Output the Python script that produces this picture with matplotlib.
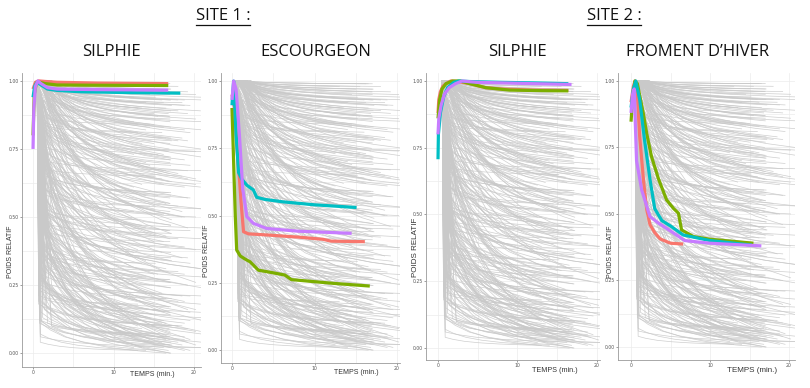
import numpy as np
import matplotlib
matplotlib.use("Agg")
import matplotlib.pyplot as plt
from matplotlib.lines import Line2D

W, H = 810, 388

# ---------------- data ----------------
panel_titles = ["SILPHIE", "ESCOURGEON", "SILPHIE", "FROMENT D\u2019HIVER"]
site_titles = ["SITE 1 :", "SITE 2 :"]
y_ticks = [0.00, 0.25, 0.50, 0.75, 1.00]
x_ticks = [0, 10, 20]

# background gray curves (shared by all panels)
gray_final = [0.00, 0.01, 0.01, 0.02, 0.02, 0.03, 0.03, 0.04, 0.04, 0.05,
              0.05, 0.06, 0.07, 0.07, 0.08, 0.09, 0.10, 0.10, 0.11, 0.12,
              0.13, 0.14, 0.15, 0.16, 0.17, 0.18, 0.19, 0.20, 0.21, 0.22,
              0.24, 0.25, 0.26, 0.27, 0.29, 0.30, 0.31, 0.33, 0.34, 0.35,
              0.37, 0.38, 0.39, 0.41, 0.42, 0.43, 0.45, 0.46, 0.47, 0.49,
              0.50, 0.51, 0.53, 0.54, 0.55, 0.57, 0.58, 0.59, 0.61, 0.62,
              0.63, 0.65, 0.66, 0.67, 0.69, 0.70, 0.71, 0.73, 0.74, 0.75,
              0.77, 0.78, 0.79, 0.81, 0.82, 0.83, 0.85, 0.86, 0.87, 0.88,
              0.89, 0.90, 0.91, 0.92, 0.93, 0.94, 0.95, 0.96, 0.97, 0.98,
              0.06, 0.15, 0.28, 0.44, 0.52, 0.64, 0.72, 0.84, 0.93, 0.99]
gray_gap_a = [0.34, 0.10, 0.22, 0.04, 0.42, 0.16, 0.28, 0.07, 0.19, 0.50]
gray_gap_b = [0.12, 0.45, 0.06, 0.30, 0.20, 0.55, 0.09, 0.38, 0.25, 0.14, 0.60]
gray_gap_c = [0.26, 0.03, 0.36, 0.15, 0.08, 0.47, 0.21, 0.32, 0.11, 0.40, 0.18, 0.65]
gray_end_a = [17.0, 15.5, 16.8, 20.8, 13.5, 17.2, 18.5, 16.0, 21.0, 14.5, 17.0]
gray_end_b = [16.5, 19.5, 14.0, 17.1, 12.5, 20.2, 16.9, 15.0, 18.0]
gray_end_c = [17.1, 13.0, 18.8, 16.2, 21.0, 15.2, 17.0, 19.2]
gray_drop_time = [0.7, 1.0, 1.4, 0.9, 1.8, 1.2, 2.3, 0.8, 1.6]
gray_shape_u = [0.0, 0.08, 0.20, 0.35, 0.55, 0.80, 1.0]
gray_shape_g = [0.0, 0.25, 0.50, 0.68, 0.83, 0.94, 1.0]

series_colors = {"red": "#F8766D", "green": "#7CAE00",
                 "cyan": "#00BFC4", "purple": "#C77CFF"}

# panel 1: SILPHIE site 1
p1 = {
    "red": ([0, 0.3, 0.7, 1.5, 3, 8, 16.8],
            [0.97, 0.995, 1.0, 0.998, 0.995, 0.992, 0.99]),
    "green": ([0, 0.15, 0.4, 0.8, 1.5, 3, 8, 16.8],
              [0.80, 0.95, 0.99, 0.995, 0.99, 0.985, 0.984, 0.983]),
    "cyan": ([0, 0.2, 0.5, 1.0, 1.8, 3, 6, 12, 18.3],
             [0.94, 0.98, 0.995, 0.985, 0.97, 0.965, 0.96, 0.957, 0.955]),
    "purple": ([0, 0.1, 0.3, 0.6, 1.0, 1.8, 3, 8, 16.8],
               [0.75, 0.90, 0.98, 1.0, 0.99, 0.975, 0.97, 0.968, 0.966]),
}
# panel 2: ESCOURGEON
p2 = {
    "red": ([0, 0.3, 0.6, 0.9, 1.1, 1.4, 2, 4.2, 8, 11, 12, 16.1],
            [0.95, 0.9, 0.75, 0.64, 0.55, 0.44, 0.432, 0.428, 0.42, 0.412, 0.405, 0.403]),
    "green": ([0, 0.2, 0.4, 0.57, 1.0, 1.5, 2.2, 3.2, 4.5, 6.4, 7.2, 9, 12.3, 16.7],
              [0.90, 0.7, 0.5, 0.372, 0.35, 0.34, 0.328, 0.297, 0.29, 0.279, 0.262, 0.257, 0.248, 0.238]),
    "cyan": ([0, 0.2, 0.5, 0.8, 1.2, 1.8, 2.6, 3.0, 4, 6.2, 10, 15.1],
             [0.91, 1.0, 0.8, 0.66, 0.635, 0.613, 0.595, 0.568, 0.56, 0.551, 0.54, 0.530]),
    "purple": ([0, 0.2, 0.5, 0.9, 1.3, 1.8, 2.6, 4.2, 8, 14.5],
               [0.93, 1.0, 0.97, 0.8, 0.6, 0.496, 0.471, 0.452, 0.442, 0.434]),
}
# panel 3: SILPHIE site 2
p3 = {
    "red": ([0, 0.1, 0.3, 0.6, 1.0, 1.6, 2.5, 4, 6, 8, 12, 16.4],
            [0.88, 0.93, 0.96, 0.98, 0.99, 1.0, 0.998, 0.99, 0.975, 0.97, 0.966, 0.965]),
    "green": ([0, 0.2, 0.5, 1.0, 1.8, 2.8, 4, 6, 9, 13, 16.4],
              [0.86, 0.93, 0.97, 0.99, 1.0, 1.0, 0.99, 0.975, 0.966, 0.964, 0.963]),
    "cyan": ([0, 0.05, 0.3, 0.7, 1.2, 2, 2.6, 4, 8, 12, 16.4],
             [0.707, 0.80, 0.88, 0.94, 0.975, 0.995, 1.0, 0.998, 0.995, 0.993, 0.99]),
    "purple": ([0, 0.1, 0.4, 0.8, 1.4, 2.2, 3, 5, 8, 12, 16.8],
               [0.80, 0.86, 0.91, 0.95, 0.975, 0.99, 1.0, 0.995, 0.993, 0.99, 0.987]),
}
# panel 4: FROMENT D'HIVER
p4 = {
    "red": ([0, 0.3, 0.5, 0.8, 1.1, 1.6, 2.0, 2.4, 3.0, 3.7, 5, 6.6],
            [0.92, 0.98, 1.0, 0.95, 0.79, 0.62, 0.515, 0.46, 0.43, 0.406, 0.39, 0.387]),
    "green": ([0, 0.2, 0.5, 0.8, 1.56, 2.0, 2.6, 3.5, 4.5, 5.4, 6.0, 6.4, 7.0, 7.9, 10, 15.5],
              [0.847, 0.93, 1.0, 0.99, 0.877, 0.8, 0.715, 0.63, 0.553, 0.52, 0.503, 0.44, 0.43, 0.415, 0.405, 0.39]),
    "cyan": ([0, 0.3, 0.6, 1.1, 1.7, 2.4, 3.0, 3.9, 5, 6.6, 10, 15.3],
             [0.9, 0.97, 1.0, 0.93, 0.78, 0.63, 0.52, 0.475, 0.455, 0.421, 0.40, 0.383]),
    "purple": ([0, 0.2, 0.4, 0.7, 1.35, 2.4, 3.5, 5.1, 6.8, 10, 16.5],
               [0.88, 0.95, 0.97, 0.70, 0.59, 0.49, 0.465, 0.434, 0.40, 0.39, 0.38]),
}
panels_data = [p1, p2, p3, p4]

# ---------------- layout (pixel boxes) ----------------
boxes = [
    (22, 201, 73, 367, (-1.37, 20.87), (-0.051, 1.029)),
    (221, 400, 73, 363, (-1.33, 20.36), (-0.048, 1.030)),
    (426, 600, 73, 360, (-1.51, 20.38), (-0.045, 1.030)),
    (618, 795, 73, 360, (-1.65, 20.76), (-0.049, 1.030)),
]
ylabel_pos = [(11, 252, 5.0), (206, 251, 5.0), (415, 247, 5.8), (610, 252, 5.0)]
xlabel_pos = [(152, 375, 5.0), (356, 373, 5.0), (555, 370, 5.2), (752, 370, 5.8)]

fig = plt.figure(figsize=(W / 100, H / 100), dpi=100)
fig.patch.set_facecolor("white")

def px_to_fig(x, y):
    return x / W, 1 - y / H

narrow = ["Liberation Sans Narrow", "Liberation Sans", "DejaVu Sans"]

gray_sets = [(gray_gap_a, gray_end_a), (gray_gap_b, gray_end_b), (gray_gap_c, gray_end_c)]

for i, (box, pdata) in enumerate(zip(boxes, panels_data)):
    l, r, t, b, xl, yl = box
    ax = fig.add_axes([l / W, 1 - b / H, (r - l) / W, (b - t) / H])
    ax.set_xlim(*xl)
    ax.set_ylim(*yl)
    ax.set_facecolor("white")
    for s in ["top", "right"]:
        ax.spines[s].set_visible(False)
    for s in ["left", "bottom"]:
        ax.spines[s].set_color("#9a9a9a")
        ax.spines[s].set_linewidth(0.6)
    ax.set_xticks(x_ticks)
    ax.set_yticks(y_ticks)
    ax.set_xticks([5, 15], minor=True)
    ax.set_yticks([0.125, 0.375, 0.625, 0.875], minor=True)
    ax.set_yticklabels([f"{v:.2f}" for v in y_ticks])
    ax.tick_params(axis="both", which="major", labelsize=3.3, colors="#555555",
                   length=1.5, width=0.4, pad=1)
    ax.tick_params(axis="both", which="minor", length=0)
    ax.grid(True, which="both", color="#ececec", linewidth=0.5, zorder=0)
    ax.set_axisbelow(True)

    # gray background curves
    n = 0
    for gaps, ends in gray_sets:
        for k, bf in enumerate(gray_final):
            a = min(1.0, bf + gaps[k % len(gaps)])
            te = ends[k % len(ends)]
            td = gray_drop_time[n % len(gray_drop_time)]
            n += 1
            t_seg = [td + u * (te - td) for u in gray_shape_u]
            v_seg = [a - g * (a - bf) for g in gray_shape_g]
            ax.plot([0.5] + t_seg, [1.0] + v_seg, color="#c9c9c9",
                    linewidth=0.5, alpha=0.9, zorder=1)

    for name in ["red", "green", "cyan", "purple"]:
        tt, vv = pdata[name]
        ax.plot(tt, vv, color=series_colors[name], linewidth=2.3,
                solid_capstyle="butt", solid_joinstyle="round", zorder=3)

    yx, yy, yfs = ylabel_pos[i]
    fig.text(*px_to_fig(yx, yy), "POIDS RELATIF", rotation=90, ha="center",
             va="center", fontsize=yfs, color="#333333", family=narrow)
    xx, xy, xfs = xlabel_pos[i]
    fig.text(*px_to_fig(xx, xy), "TEMPS (min.)", ha="center", va="center",
             fontsize=xfs, color="#333333", family=narrow)

title_font = ["Open Sans", "DejaVu Sans"]
panel_title_x = [111, 316, 517, 698]
for x, s in zip(panel_title_x, panel_titles):
    fig.text(*px_to_fig(x, 56), s, ha="center", va="baseline", fontsize=12,
             color="#111111", family=title_font)

site_x = [223, 614]
site_texts = []
for x, s in zip(site_x, site_titles):
    site_texts.append(fig.text(*px_to_fig(x, 20), s, ha="center", va="baseline",
                               fontsize=12, color="#111111", family=title_font))

fig.canvas.draw()
renderer = fig.canvas.get_renderer()
for txt in site_texts:
    bb = txt.get_window_extent(renderer)
    yline = 1 - 25 / H
    fig.add_artist(Line2D([bb.x0 / W, bb.x1 / W], [yline, yline],
                          transform=fig.transFigure, color="#111111", linewidth=0.9))

fig.savefig("out.png", dpi=100, facecolor="white")
